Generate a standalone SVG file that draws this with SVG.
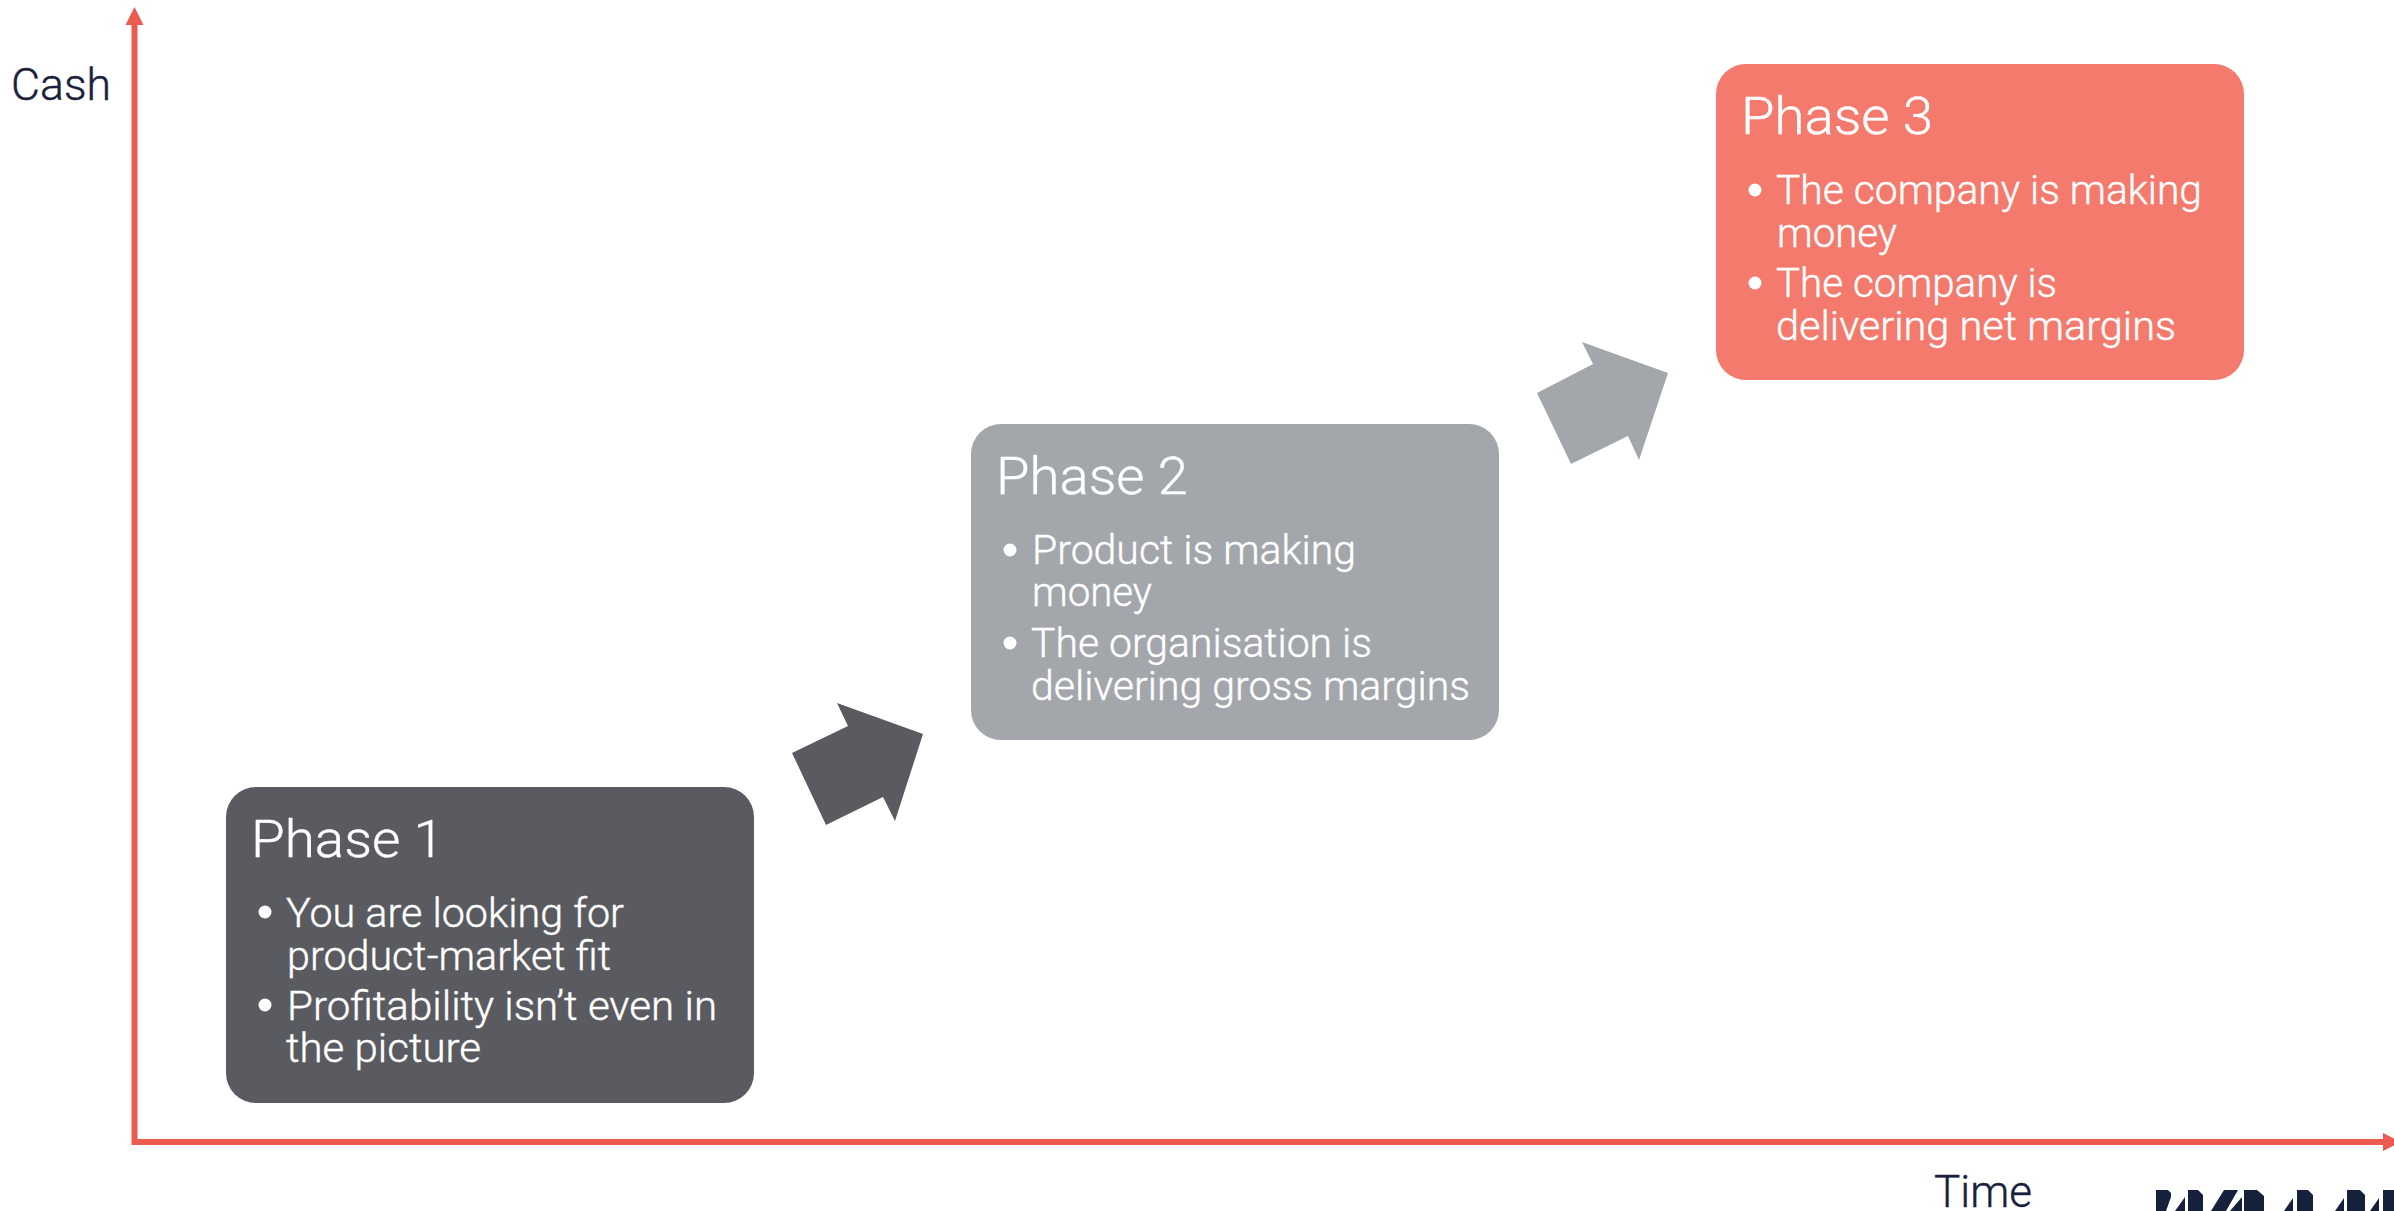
<svg xmlns="http://www.w3.org/2000/svg" width="2394" height="1211" viewBox="0 0 2394 1211">
<style>
text{font-family:"Roboto","Liberation Sans",sans-serif;font-weight:300}
.t{font-size:52px;fill:#fff;stroke:#fff;stroke-width:.4px}
.b{font-size:40px;fill:#fff;stroke:#fff;stroke-width:.4px}
.a{font-size:44px;fill:#1A1F3D;font-weight:300;stroke:#1A1F3D;stroke-width:.4px}
.axis{stroke:#EC5A50;stroke-width:6;fill:none}
.ah{fill:#EC5A50}
.bul{fill:#fff}
.logo{fill:#15213A}
</style>
<rect width="2394" height="1211" fill="#fff"/>
<g id="connectors">
<line class="axis" x1="134.500" y1="24" x2="134.500" y2="1145"/>
<line class="axis" x1="133" y1="1142" x2="2384" y2="1142"/>
<polygon class="ah" points="134.500,7 143.500,25 125.500,25"/>
<polygon class="ah" points="2383,1133 2401,1142 2383,1151"/>
<polygon id="arrow-1" fill="#5A5B60" points="837,703 848,726 792,753 826,825 883,797 895,821 923,734"/>
<polygon id="arrow-2" fill="#A3A6AA" points="1582,342 1593,364 1537,393 1571,464 1628,436 1639,460 1668,373"/>
</g>
<g id="axis-y-label"><text class="a" x="11" y="100" textLength="100" lengthAdjust="spacingAndGlyphs">Cash</text></g>
<g id="axis-x-label"><text class="a" x="1934" y="1207" textLength="98" lengthAdjust="spacingAndGlyphs">Time</text></g>
<g id="phase-1">
<rect x="226" y="787" width="528" height="316" rx="30" fill="#5A5B60"/>
<text class="t" x="251" y="857" textLength="193" lengthAdjust="spacingAndGlyphs">Phase 1</text>
<circle class="bul" cx="265" cy="912" r="6.500"/>
<text class="b" x="286" y="927" textLength="338" lengthAdjust="spacingAndGlyphs">You are looking for</text>
<text class="b" x="287" y="970" textLength="324" lengthAdjust="spacingAndGlyphs">product-market fit</text>
<circle class="bul" cx="265" cy="1005" r="6.500"/>
<text class="b" x="287" y="1020" textLength="430" lengthAdjust="spacingAndGlyphs">Profitability isn’t even in</text>
<text class="b" x="286" y="1062" textLength="195" lengthAdjust="spacingAndGlyphs">the picture</text>
</g>
<g id="phase-2">
<rect x="971" y="424" width="528" height="316" rx="30" fill="#A3A6AA"/>
<text class="t" x="996" y="494" textLength="192" lengthAdjust="spacingAndGlyphs">Phase 2</text>
<circle class="bul" cx="1010" cy="550" r="6.500"/>
<text class="b" x="1032" y="564" textLength="324" lengthAdjust="spacingAndGlyphs">Product is making</text>
<text class="b" x="1032" y="606" textLength="120" lengthAdjust="spacingAndGlyphs">money</text>
<circle class="bul" cx="1010" cy="643" r="6.500"/>
<text class="b" x="1031" y="657" textLength="341" lengthAdjust="spacingAndGlyphs">The organisation is</text>
<text class="b" x="1031" y="700" textLength="439" lengthAdjust="spacingAndGlyphs">delivering gross margins</text>
</g>
<g id="phase-3">
<rect x="1716" y="64" width="528" height="316" rx="30" fill="#F47A6D"/>
<text class="t" x="1741" y="134" textLength="192" lengthAdjust="spacingAndGlyphs">Phase 3</text>
<circle class="bul" cx="1755" cy="190" r="6.500"/>
<text class="b" x="1776" y="204" textLength="426" lengthAdjust="spacingAndGlyphs">The company is making</text>
<text class="b" x="1777" y="247" textLength="120" lengthAdjust="spacingAndGlyphs">money</text>
<circle class="bul" cx="1755" cy="283" r="6.500"/>
<text class="b" x="1776" y="297" textLength="281" lengthAdjust="spacingAndGlyphs">The company is</text>
<text class="b" x="1776" y="340" textLength="400" lengthAdjust="spacingAndGlyphs">delivering net margins</text>
</g>
<g id="logo" class="logo">
<polygon points="2156,1190 2168,1190 2171,1193 2171,1197 2166,1211 2156,1211"/>
<polygon points="2175,1211 2185,1197 2185,1211"/>
<polygon points="2188,1190 2198,1190 2203,1195 2203,1211 2188,1211"/>
<polygon points="2211,1211 2224,1190 2238,1190 2226,1211"/>
<polygon points="2230,1211 2242,1197 2242,1211"/>
<polygon points="2244,1190 2257,1190 2264,1196 2264,1211 2244,1211"/>
<polygon points="2284,1211 2293,1198 2293,1211"/>
<polygon points="2297,1190 2308,1190 2313,1195 2313,1211 2297,1211"/>
<polygon points="2335,1211 2344,1198 2344,1211"/>
<polygon points="2347,1190 2360,1190 2365,1195 2365,1211 2347,1211"/>
<polygon points="2370,1211 2379,1198 2379,1211"/>
<polygon points="2383,1190 2394,1190 2394,1211 2383,1211"/>
</g>
</svg>
